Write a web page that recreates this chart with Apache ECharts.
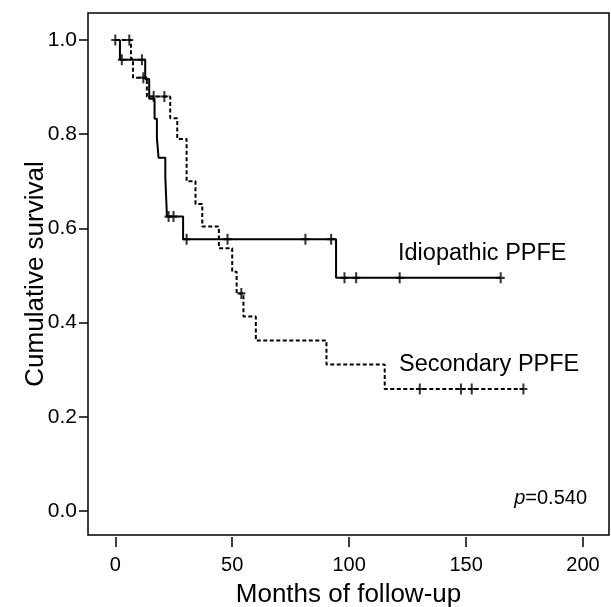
<!DOCTYPE html>
<html>
<head>
<meta charset="utf-8">
<script src="https://cdn.jsdelivr.net/npm/echarts@6/dist/echarts.min.js"></script>
<style>
  html, body { margin: 0; padding: 0; background: #fff; }
  #chart { width: 611px; height: 607px; }
</style>
</head>
<body>
<div id="chart"></div>
<script>
// Kaplan-Meier steps: time (months) where survival changes, and the new value
const idioTimes = [0, 2, 12.8, 14.5, 16.8, 17.8, 18.5, 21.4, 22.1, 29, 94.4, 164.8]
const idioSurv = [1, 0.958, 0.917, 0.875, 0.833, 0.792, 0.75, 0.708, 0.625, 0.577, 0.495, 0.495]
const idioCensored = [0, 2.8, 11.4, 22.8, 24.9, 30.5, 48, 81.3, 92.3, 98, 103, 121.6, 164.8]

const secTimes = [0, 6.7, 7.6, 13.5, 23.5, 26.5, 30.5, 34.3, 37.2, 44.3, 50, 51.9, 54.8, 60.1, 90.3, 115.2, 174.5]
const secSurv = [1, 0.96, 0.92, 0.88, 0.834, 0.79, 0.7, 0.652, 0.604, 0.558, 0.508, 0.462, 0.413, 0.362, 0.311, 0.259, 0.259]
const secCensored = [6, 12, 16.4, 21, 53.9, 130.2, 147.8, 152.4, 174.5]

const xTicks = [0, 50, 100, 150, 200]
const yTicks = [0, 0.2, 0.4, 0.6, 0.8, 1.0]

const FONT = "'Liberation Sans', Arial, sans-serif"
const plusMark = 'path://M-1,-5H1V-1H4V1H1V5H-1V1H-4V-1H-1Z'

function survAt(times, surv, t) {
  let s = surv[0]
  for (let i = 0; i < times.length; i++) {
    if (times[i] <= t) s = surv[i]
  }
  return s
}

const chart = echarts.init(document.getElementById('chart'))

const option = {
  backgroundColor: '#fff',
  animation: false,
  grid: {
    left: 88,
    right: 2,
    top: 13,
    bottom: 72,
    containLabel: false,
    outerBoundsMode: 'none',
    show: true,
    borderColor: '#000',
    borderWidth: 1.5
  },
  xAxis: {
    type: 'value',
    min: -11.66,
    max: 211.1,
    offset: 2,
    name: 'Months of follow-up',
    nameLocation: 'middle',
    nameGap: 45,
    nameMoveOverlap: false,
    nameTextStyle: { fontFamily: FONT, fontSize: 26, color: '#000' },
    axisLine: { show: false, onZero: false },
    splitLine: { show: false },
    axisTick: {
      show: true,
      customValues: xTicks,
      length: 10,
      lineStyle: { color: '#000', width: 1.5 }
    },
    axisLabel: {
      customValues: xTicks,
      margin: 18,
      fontFamily: FONT,
      fontSize: 20,
      color: '#000'
    }
  },
  yAxis: {
    type: 'value',
    min: -0.051,
    max: 1.0573,
    name: 'Cumulative survival',
    nameLocation: 'middle',
    nameGap: 39,
    nameMoveOverlap: false,
    nameTextStyle: { fontFamily: FONT, fontSize: 26, color: '#000' },
    axisLine: { show: false, onZero: false },
    splitLine: { show: false },
    axisTick: {
      show: true,
      customValues: yTicks,
      length: 9,
      lineStyle: { color: '#000', width: 1.5 }
    },
    axisLabel: {
      customValues: yTicks,
      margin: 11,
      fontFamily: FONT,
      fontSize: 21,
      color: '#000',
      formatter: v => v.toFixed(1)
    }
  },
  series: [
    {
      name: 'Idiopathic PPFE',
      type: 'line',
      step: 'end',
      symbol: 'none',
      lineStyle: { color: '#000', width: 2 },
      data: idioTimes.map((t, i) => [t, idioSurv[i]])
    },
    {
      name: 'Secondary PPFE',
      type: 'line',
      step: 'end',
      symbol: 'none',
      lineStyle: { color: '#000', width: 2, type: [4, 2.5] },
      data: secTimes.map((t, i) => [t, secSurv[i]])
    },
    {
      type: 'scatter',
      symbol: plusMark,
      symbolSize: [8, 11],
      itemStyle: { color: '#000' },
      silent: true,
      data: idioCensored.map(t => [t, survAt(idioTimes, idioSurv, t)])
    },
    {
      type: 'scatter',
      symbol: plusMark,
      symbolSize: [8, 11],
      itemStyle: { color: '#000' },
      silent: true,
      data: secCensored.map(t => [t, survAt(secTimes, secSurv, t)])
    }
  ],
  graphic: [
    {
      type: 'text',
      x: 398,
      y: 254,
      style: {
        text: 'Idiopathic PPFE',
        font: '23.5px ' + FONT,
        fill: '#000',
        textAlign: 'left',
        textVerticalAlign: 'middle'
      }
    },
    {
      type: 'text',
      x: 399,
      y: 365,
      style: {
        text: 'Secondary PPFE',
        font: '23.5px ' + FONT,
        fill: '#000',
        textAlign: 'left',
        textVerticalAlign: 'middle'
      }
    },
    {
      type: 'text',
      x: 587,
      y: 498,
      style: {
        text: '{i|p}=0.540',
        font: '20px ' + FONT,
        fill: '#000',
        textAlign: 'right',
        textVerticalAlign: 'middle',
        rich: {
          i: { fontStyle: 'italic', fontSize: 20, fontFamily: FONT, fill: '#000' }
        }
      }
    }
  ]
}

chart.setOption(option)
</script>
</body>
</html>
